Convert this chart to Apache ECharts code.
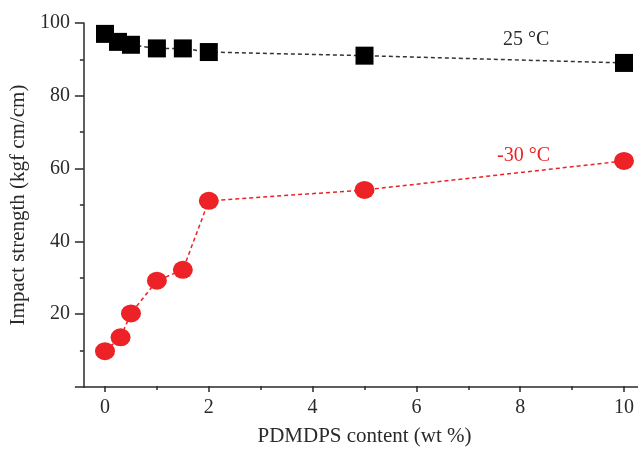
<!DOCTYPE html>
<html><head><meta charset="utf-8">
<script src="https://cdn.jsdelivr.net/npm/echarts@6/dist/echarts.min.js"></script>
<style>html,body{margin:0;padding:0;background:#fff}#c{width:638px;height:452px}</style>
</head><body><div id="c"></div>
<script>
const content25 = [0, 0.25, 0.5, 1, 1.5, 2, 5, 10];
const strength25 = [97, 94.8, 94, 93, 93, 92, 91, 89];
const contentM30 = [0, 0.3, 0.5, 1, 1.5, 2, 5, 10];
const strengthM30 = [9.6, 13.4, 20, 29, 32, 51, 54, 62];
const label25 = '25 °C';
const labelM30 = '-30 °C';
const xName = 'PDMDPS content (wt %)';
const yName = 'Impact strength (kgf cm/cm)';

const font = 'Liberation Serif';
const black = '#000000';
const red = '#ec2226';
const ink = '#2a2a2a';

const chart = echarts.init(document.getElementById('c'), null, {renderer: 'canvas'});
chart.setOption({
  animation: false,
  backgroundColor: '#ffffff',
  textStyle: {fontFamily: font},
  grid: [
    {left: 78, right: 0, top: 23, bottom: 65},
    {left: 105, right: 14, top: 23, bottom: 65}
  ],
  xAxis: [
    {gridIndex: 0, type: 'value', min: -0.52, max: 10.25,
     axisLine: {show: true, onZero: false, lineStyle: {color: ink, width: 1.5}},
     axisTick: {show: false}, axisLabel: {show: false}, splitLine: {show: false}},
    {gridIndex: 1, type: 'value', min: 0, max: 10, interval: 2,
     axisLine: {show: false, onZero: false},
     axisTick: {show: true, length: 6, inside: false, lineStyle: {color: ink, width: 1.5}},
     minorTick: {show: true, splitNumber: 2, length: 4, lineStyle: {color: ink, width: 1.5}},
     axisLabel: {color: ink, fontSize: 20, fontFamily: font, margin: 12},
     splitLine: {show: false},
     name: xName, nameLocation: 'middle', nameGap: 40,
     nameTextStyle: {color: ink, fontSize: 21, fontFamily: font}}
  ],
  yAxis: [
    {gridIndex: 0, type: 'value', min: 0, max: 100, interval: 20,
     axisLine: {show: true, onZero: false, lineStyle: {color: ink, width: 1.5}},
     axisTick: {show: true, length: 9, lineStyle: {color: ink, width: 1.5}},
     minorTick: {show: true, splitNumber: 2, length: 4, lineStyle: {color: ink, width: 1.5}},
     axisLabel: {color: ink, fontSize: 20, fontFamily: font, margin: 14, showMinLabel: false},
     splitLine: {show: false},
     name: yName, nameLocation: 'middle', nameGap: 45,
     nameTextStyle: {color: ink, fontSize: 21, fontFamily: font}},
    {gridIndex: 1, type: 'value', min: 0, max: 100, show: false}
  ],
  series: [
    {type: 'line', xAxisIndex: 1, yAxisIndex: 1,
     data: content25.map((x, i) => [x, strength25[i]]),
     symbol: 'rect', symbolSize: 18,
     itemStyle: {color: black},
     lineStyle: {color: '#333', width: 1.5, type: [4, 3]}},
    {type: 'line', xAxisIndex: 1, yAxisIndex: 1,
     data: contentM30.map((x, i) => [x, strengthM30[i]]),
     symbol: 'circle', symbolSize: [20, 18],
     itemStyle: {color: red},
     lineStyle: {color: red, width: 1.5, type: [4, 3]}}
  ],
  graphic: [
    {type: 'text', left: 503, top: 30, style: {text: label25, fill: ink, font: '20px "Liberation Serif"'}},
    {type: 'text', left: 497, top: 146, style: {text: labelM30, fill: red, font: '20px "Liberation Serif"'}}
  ]
});
</script></body></html>
